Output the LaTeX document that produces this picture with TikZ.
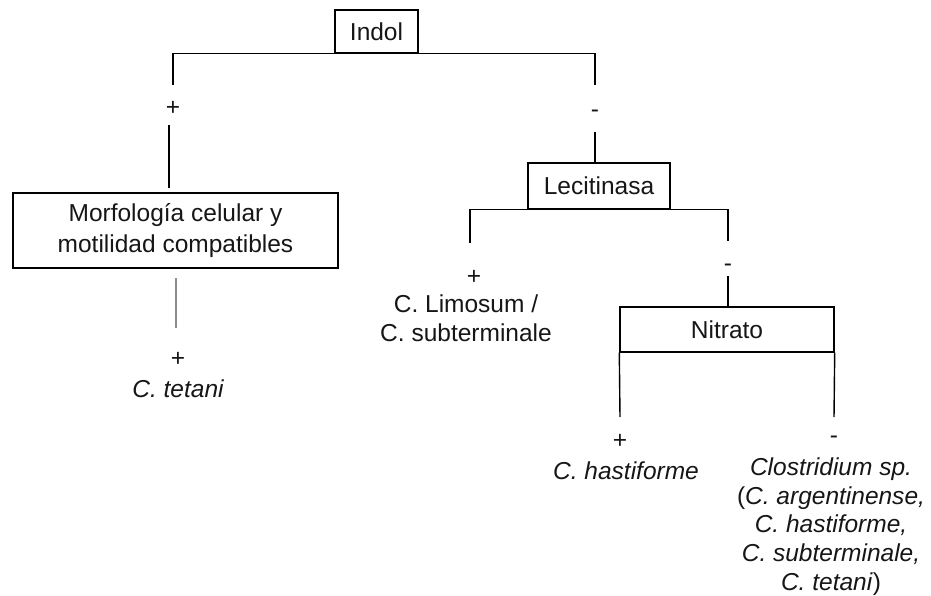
\documentclass[tikz,border=0pt]{standalone}
\usepackage{fontspec}
\setmainfont{Liberation Sans}
\definecolor{ink}{HTML}{161616}
\begin{document}
\begin{tikzpicture}[x=1pt,y=-1pt,
  every node/.style={font=\fontsize{24.5}{28.5}\selectfont, text=ink},
  testbox/.style={draw=black, line width=1.4pt, inner sep=0pt, align=center},
  txt/.style={inner sep=0pt, align=center},
  branch/.style={draw=black, line width=1.4pt},
  faint/.style={draw=black!45, line width=1.4pt}]
\useasboundingbox (0,0) rectangle (931,596);

% test boxes
\node[testbox, minimum width=83pt, minimum height=43pt] (indol) at (376.5,31.5) {Indol};
\node[testbox, minimum width=325pt, minimum height=75pt,
      font=\fontsize{24.5}{31.5}\selectfont] (morf) at (175.5,230.5)
      {Morfología celular y\\motilidad compatibles};
\node[testbox, minimum width=142pt, minimum height=46pt] (lecit) at (599,186) {Lecitinasa};
\node[testbox, minimum width=214pt, minimum height=45pt] (nitr) at (727,329.5) {Nitrato};

% branch signs
\node[txt, anchor=base] (sIp) at (173,116) {+};
\node[txt, anchor=base] (sIm) at (595,118) {-};
\node[txt, anchor=base] (sMp) at (178,366) {+};
\node[txt, anchor=base] (sLp) at (474,284) {+};
\node[txt, anchor=base] (sLm) at (728,271) {-};
\node[txt, anchor=base] (sNp) at (620,448) {+};
\node[txt, anchor=base] (sNm) at (834,443) {-};

% results (multi-line nodes are placed by the baseline of their last line)
\node[txt, anchor=base] (tet) at (178,397) {\itshape C. tetani};
\node[txt, anchor=base] (limo) at (466,341) {C. Limosum /\\C. subterminale};
\node[txt, anchor=base] (hast) at (626,479) {\itshape C. hastiforme};
\node[txt, anchor=base, font=\fontsize{24.5}{28.6}\selectfont] (clos) at (831,590)
  {\textit{Clostridium sp.}\\(\textit{C. argentinense,}\\\textit{C. hastiforme,}\\
   \textit{C. subterminale,}\\\textit{C. tetani})};

% branch ends
\coordinate (iL) at (173,85);
\coordinate (iR) at (595,85);
\coordinate (a1) at (169,125);
\coordinate (a2) at (169,188);
\coordinate (b1) at (595,132);
\coordinate (lL) at (470,243);
\coordinate (lR) at (728,241);
\coordinate (d1) at (728,276);
\coordinate (nL) at (620,417);
\coordinate (nR) at (834,417);
\coordinate (g1) at (176,278);
\coordinate (g2) at (176,328);

% connectors
\draw[branch] (indol.south west) -| (iL);
\draw[branch] (indol.south east) -| (iR);
\draw[branch] (a1) -- (a2);
\draw[branch] (b1) -- (b1 |- lecit.north);
\draw[branch] (lecit.south west) -| (lL);
\draw[branch] (lecit.south east) -| (lR);
\draw[branch] (d1) -- (d1 |- nitr.north);
\draw[branch] (nitr.south west) -- (nL);
\draw[branch] (nitr.south east) -- (nR);
\draw[faint] (g1) -- (g2);
\end{tikzpicture}
\end{document}
